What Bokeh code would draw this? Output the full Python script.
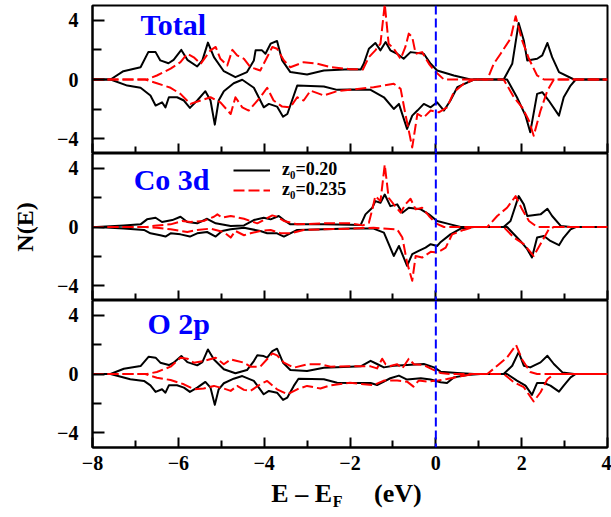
from bokeh.plotting import figure
from bokeh.models import (Range1d, FixedTicker, Span, Label, Legend, LegendItem,
                          CustomLabelingPolicy)
from bokeh.layouts import column
from bokeh.embed import file_html
from bokeh.resources import INLINE

FONT = "Liberation Serif"

# ---------------- data ----------------
X_TICKS = [-8, -6, -4, -2, 0, 2, 4]
X_MINOR = [-7, -5, -3, -1, 1, 3]
X_LABELS = ["\u22128", "\u22126", "\u22124", "\u22122", "0", "2", "4"]
Y_TICKS = [-4, 0, 4]
Y_MINOR = [-2, 2]
Y_LABELS = ["\u22124", "0", "4"]
PANELS = ["Total", "Co 3d", "O 2p"]
SERIES = ["z\u2080=0.20", "z\u2080=0.235"]

# Total, z0=0.20
TOT_A_UP_E = [-8.0, -7.58, -7.28, -6.88, -6.7, -6.53, -6.42, -6.23, -6.11, -5.93, -5.79, -5.56, -5.44, -5.31, -5.17, -4.94, -4.67, -4.4, -4.24, -4.2, -4.05, -3.97, -3.85, -3.7, -3.58, -3.39, -3.0, -2.61, -2.0, -1.75, -1.68, -1.56, -1.41, -1.29, -1.17, -1.06, -0.9, -0.75, -0.59, -0.28, -0.12, 0.03, 0.42, 0.81, 1.58, 1.78, 1.93, 2.05, 2.13, 2.36, 2.48, 2.6, 2.71, 2.87, 3.22, 4.0]
TOT_A_UP_N = [0, 0, 0.56, 0.83, 1.85, 1.85, 1.29, 1.1, 1.33, 2.0, 1.33, 0.88, 1.29, 2.49, 1.51, 0.56, 0.16, 0.5, 1.29, 1.97, 1.97, 1.74, 2.42, 2.6, 1.29, 0.5, 0.34, 0.61, 0.70, 0.68, 1.06, 2.08, 2.47, 1.97, 2.53, 1.97, 1.74, 1.4, 1.85, 1.74, 1.06, 0.61, 0.27, 0, 0, 1.06, 3.82, 2.64, 1.29, 1.4, 1.63, 2.47, 1.51, 0.5, 0, 0]
TOT_A_DN_E = [-8.0, -7.58, -7.19, -6.88, -6.65, -6.53, -6.38, -6.3, -6.22, -6.03, -5.87, -5.73, -5.56, -5.37, -5.25, -5.15, -5.06, -4.94, -4.71, -4.51, -4.24, -4.01, -3.89, -3.7, -3.56, -3.46, -3.31, -3.23, -2.61, -2.3, -2.0, -1.52, -1.21, -0.98, -0.86, -0.67, -0.55, -0.43, -0.28, -0.12, 0.03, 0.19, 0.34, 0.5, 0.89, 1.66, 1.89, 2.09, 2.2, 2.36, 2.48, 2.63, 2.87, 2.98, 3.14, 3.26, 4.0]
TOT_A_DN_N = [0, 0, -0.41, -0.56, -1.08, -1.76, -1.54, -1.88, -1.2, -1.2, -1.42, -1.92, -1.42, -0.79, -1.42, -3.05, -1.42, -0.79, -0.25, -0.02, -0.56, -1.88, -1.65, -1.83, -2.51, -2.33, -1.08, -0.41, -0.47, -0.7, -0.68, -0.7, -1.2, -1.99, -1.65, -3.34, -2.44, -2.1, -1.65, -1.88, -1.54, -2.1, -1.42, -0.52, 0, 0, -1.2, -2.44, -3.57, -0.97, -0.86, -1.42, -2.44, -1.2, -0.41, 0, 0]
# Total, z0=0.235
TOT_B_UP_E = [-8.0, -6.73, -6.5, -6.18, -5.95, -5.79, -5.64, -5.48, -5.25, -5.13, -5.02, -4.86, -4.74, -4.63, -4.47, -4.32, -4.09, -3.81, -3.7, -3.54, -3.39, -3.08, -2.76, -2.45, -2.0, -1.7, -1.56, -1.41, -1.29, -1.19, -1.1, -0.98, -0.82, -0.71, -0.63, -0.55, -0.47, -0.32, -0.16, -0.04, 0.19, 1.2, 1.35, 1.51, 1.74, 1.86, 2.01, 2.17, 2.36, 2.52, 4.0]
TOT_B_UP_N = [0, 0, 0.27, 0.73, 1.17, 1.74, 1.5, 1.06, 1.97, 2.2, 1.4, 0.95, 2.0, 1.63, 1.4, 0.83, 0.61, 2.2, 2.08, 1.29, 0.83, 1.17, 1.06, 0.83, 0.70, 0.68, 1.51, 1.97, 2.42, 5.1, 2.42, 2.08, 1.4, 2.2, 3.1, 2.87, 1.74, 1.85, 1.06, 0.61, 0, 0, 1.06, 1.74, 2.76, 4.27, 2.64, 1.4, 0.27, 0, 0]
TOT_B_DN_E = [-8.0, -6.77, -6.5, -6.18, -5.95, -5.72, -5.48, -5.25, -5.02, -4.78, -4.67, -4.51, -4.36, -4.09, -3.93, -3.78, -3.58, -3.39, -3.23, -3.08, -2.92, -2.61, -2.3, -2.0, -1.45, -0.98, -0.82, -0.71, -0.55, -0.43, -0.28, -0.12, 0.07, 0.26, 0.42, 0.65, 0.89, 1.58, 1.82, 2.01, 2.17, 2.28, 2.44, 2.6, 2.75, 4.0]
TOT_B_DN_N = [0, 0, -0.25, -0.56, -0.97, -1.65, -1.42, -1.2, -1.54, -2.33, -1.2, -1.88, -2.1, -1.2, -0.56, -1.42, -1.83, -1.88, -1.2, -1.42, -0.75, -1.08, -0.79, -0.7, -0.52, -0.29, -0.63, -2.33, -4.59, -2.33, -2.56, -2.1, -2.22, -1.88, -0.86, -0.29, 0, 0, -1.2, -1.88, -2.78, -3.8, -2.1, -0.75, 0, 0]

# Co 3d, z0=0.20
CO_A_UP_E = [-8.0, -7.9, -7.27, -6.88, -6.73, -6.53, -6.38, -6.14, -5.95, -5.79, -5.56, -5.33, -5.13, -4.78, -4.47, -4.24, -4.01, -3.85, -3.66, -3.54, -3.39, -2.61, -2.0, -1.75, -1.64, -1.48, -1.41, -1.29, -1.19, -1.06, -0.9, -0.78, -0.63, -0.35, -0.16, 0.03, 0.34, 0.58, 1.58, 1.74, 1.93, 2.05, 2.13, 2.44, 2.6, 2.71, 2.91, 3.14, 4.0]
CO_A_UP_N = [0, 0, 0.11, 0.18, 0.52, 0.63, 0.34, 0.47, 0.7, 0.34, 0.25, 0.56, 0.25, 0.07, 0.11, 0.47, 0.63, 0.52, 0.75, 0.47, 0.18, 0.18, 0.16, 0.14, 0.86, 1.31, 1.76, 1.65, 2.21, 1.42, 1.54, 0.97, 1.31, 1.2, 0.86, 0.41, 0.18, 0, 0, 0.41, 2.1, 1.54, 0.75, 0.86, 1.24, 0.75, 0.07, 0, 0]
CO_A_DN_E = [-8.0, -7.9, -7.27, -6.8, -6.65, -6.42, -6.3, -6.18, -5.95, -5.73, -5.56, -5.33, -5.13, -4.98, -4.78, -4.47, -4.09, -3.93, -3.7, -3.54, -3.39, -3.23, -2.61, -2.0, -1.45, -1.21, -0.98, -0.86, -0.67, -0.55, -0.4, -0.24, -0.12, 0.03, 0.1, 0.34, 0.58, 0.89, 1.66, 1.97, 2.13, 2.24, 2.36, 2.52, 2.67, 2.87, 2.98, 3.14, 3.26, 4.0]
CO_A_DN_N = [0, 0, -0.11, -0.2, -0.43, -0.56, -0.65, -0.43, -0.5, -0.65, -0.43, -0.34, -0.65, -0.27, -0.16, -0.05, -0.27, -0.43, -0.43, -0.65, -0.43, -0.2, -0.16, -0.11, -0.11, -0.38, -1.97, -1.29, -2.64, -1.85, -1.63, -1.4, -1.17, -1.29, -1.06, -0.5, -0.11, 0, 0, -0.95, -1.51, -2.08, -0.72, -0.61, -0.95, -1.24, -0.72, -0.16, 0, 0]
# Co 3d, z0=0.235
CO_B_UP_E = [-8.0, -6.73, -6.5, -6.18, -5.91, -5.72, -5.41, -5.17, -5.09, -4.98, -4.78, -4.47, -4.16, -3.81, -3.7, -3.54, -3.23, -2.61, -2.0, -1.7, -1.56, -1.48, -1.41, -1.29, -1.19, -1.1, -0.98, -0.82, -0.71, -0.59, -0.47, -0.32, -0.16, 0.0, 0.19, 1.2, 1.43, 1.66, 1.86, 2.01, 2.17, 2.36, 4.0]
CO_B_UP_N = [0, 0, 0.11, 0.18, 0.41, 0.34, 0.41, 0.7, 0.86, 0.63, 0.75, 0.56, 0.25, 0.79, 0.7, 0.41, 0.18, 0.25, 0.25, 0.11, 0.29, 1.2, 2.1, 1.76, 4.24, 1.99, 1.54, 0.97, 1.54, 1.92, 1.2, 1.31, 0.75, 0.25, 0, 0, 0.75, 1.31, 2.1, 1.2, 0.41, 0, 0]
CO_B_DN_E = [-8.0, -6.77, -6.5, -6.18, -5.79, -5.56, -5.25, -4.94, -4.78, -4.67, -4.47, -4.32, -4.09, -3.85, -3.62, -3.39, -3.08, -2.61, -2.0, -1.45, -0.9, -0.78, -0.67, -0.55, -0.47, -0.32, -0.12, 0.03, 0.23, 0.38, 0.65, 0.89, 1.58, 1.82, 2.05, 2.28, 2.48, 2.63, 2.75, 4.0]
CO_B_DN_N = [0, 0, -0.05, -0.16, -0.34, -0.2, -0.11, -0.34, -0.72, -0.27, -0.56, -0.43, -0.27, -0.2, -0.43, -0.43, -0.2, -0.16, -0.11, -0.05, -0.16, -0.72, -2.42, -3.66, -1.97, -2.08, -1.69, -1.74, -1.4, -0.5, -0.2, 0, 0, -0.72, -1.17, -1.97, -0.95, -0.16, 0, 0]

# O 2p, z0=0.20
O_A_UP_E = [-8.0, -7.58, -7.27, -6.88, -6.69, -6.53, -6.42, -6.22, -6.11, -5.93, -5.79, -5.56, -5.44, -5.31, -5.17, -4.94, -4.67, -4.4, -4.24, -4.16, -4.01, -3.93, -3.81, -3.7, -3.56, -3.39, -3.0, -2.61, -2.0, -1.75, -1.52, -1.37, -1.21, -0.98, -0.67, -0.28, -0.04, 0.11, 0.5, 0.89, 1.58, 1.78, 1.93, 2.05, 2.2, 2.44, 2.6, 2.75, 2.95, 3.22, 4.0]
O_A_UP_N = [0, 0, 0.36, 0.54, 1.18, 1.11, 0.77, 0.61, 0.77, 1.22, 0.81, 0.59, 0.81, 1.67, 0.99, 0.32, 0.05, 0.27, 0.88, 1.27, 1.22, 1.11, 1.56, 1.72, 0.77, 0.27, 0.2, 0.43, 0.5, 0.52, 0.9, 0.68, 0.45, 0.56, 0.61, 0.68, 0.45, 0.16, 0.07, 0, 0, 0.56, 1.49, 0.56, 0.45, 0.79, 1.24, 0.68, 0.11, 0, 0]
O_A_DN_E = [-8.0, -7.58, -7.12, -6.8, -6.65, -6.53, -6.38, -6.3, -6.22, -6.03, -5.87, -5.73, -5.56, -5.37, -5.25, -5.15, -5.06, -4.94, -4.71, -4.51, -4.24, -4.01, -3.89, -3.7, -3.56, -3.46, -3.31, -3.2, -2.61, -2.3, -2.0, -1.52, -1.37, -1.06, -0.86, -0.67, -0.35, -0.12, 0.11, 0.26, 0.42, 0.73, 1.04, 1.66, 1.89, 2.09, 2.24, 2.36, 2.52, 2.67, 2.87, 2.98, 3.14, 3.26, 4.0]
O_A_DN_N = [0, 0, -0.36, -0.47, -0.77, -1.22, -1.04, -1.27, -0.77, -0.77, -0.93, -1.22, -0.93, -0.54, -0.93, -2.1, -1.04, -0.63, -0.32, -0.14, -0.47, -1.38, -1.15, -1.27, -1.76, -1.6, -0.81, -0.32, -0.36, -0.59, -0.61, -0.61, -0.75, -0.29, -0.11, -0.38, -0.29, -0.38, -0.56, -0.61, -0.23, -0.07, 0, 0, -0.45, -0.79, -1.42, -0.61, -0.61, -0.79, -1.2, -0.79, -0.23, 0, 0]
# O 2p, z0=0.235
O_B_UP_E = [-8.0, -6.73, -6.5, -6.18, -5.95, -5.79, -5.64, -5.41, -5.13, -4.94, -4.78, -4.63, -4.47, -4.32, -4.09, -3.81, -3.7, -3.54, -3.31, -3.0, -2.69, -2.45, -2.0, -1.52, -1.37, -1.25, -1.17, -1.06, -0.9, -0.78, -0.63, -0.51, -0.28, -0.08, 0.11, 0.34, 1.2, 1.43, 1.66, 1.87, 2.01, 2.2, 2.36, 4.0]
O_B_UP_N = [0, 0, 0.14, 0.5, 1.11, 1.04, 0.77, 0.88, 1.11, 0.66, 0.99, 0.88, 0.77, 0.5, 0.5, 1.4, 1.27, 0.77, 0.43, 0.66, 0.66, 0.5, 0.52, 0.52, 0.38, 1.04, 0.66, 0.54, 0.66, 0.38, 1.04, 0.66, 0.61, 0.32, 0.07, 0, 0, 0.56, 1.13, 1.97, 0.99, 0.14, 0, 0]
O_B_DN_E = [-8.0, -6.77, -6.5, -6.18, -5.87, -5.64, -5.41, -5.17, -4.94, -4.78, -4.63, -4.47, -4.32, -4.09, -3.93, -3.7, -3.46, -3.23, -3.0, -2.69, -2.45, -2.0, -1.75, -1.45, -1.21, -0.9, -0.67, -0.52, -0.4, -0.2, 0.03, 0.26, 0.58, 0.89, 1.58, 1.82, 2.05, 2.28, 2.44, 2.6, 2.75, 4.0]
O_B_DN_N = [0, 0, -0.25, -0.41, -0.7, -1.04, -0.99, -0.81, -0.99, -1.15, -0.81, -1.08, -1.15, -0.7, -0.47, -1.04, -1.38, -1.04, -0.81, -0.99, -0.77, -0.59, -0.68, -0.75, -0.45, -0.45, -0.52, -0.86, -0.45, -0.52, -0.45, -0.34, -0.16, 0, 0, -0.56, -0.9, -1.87, -1.24, -0.36, 0, 0]

CURVES = [
    ((TOT_A_UP_E, TOT_A_UP_N), (TOT_A_DN_E, TOT_A_DN_N), (TOT_B_UP_E, TOT_B_UP_N), (TOT_B_DN_E, TOT_B_DN_N)),
    ((CO_A_UP_E, CO_A_UP_N), (CO_A_DN_E, CO_A_DN_N), (CO_B_UP_E, CO_B_UP_N), (CO_B_DN_E, CO_B_DN_N)),
    ((O_A_UP_E, O_A_UP_N), (O_A_DN_E, O_A_DN_N), (O_B_UP_E, O_B_UP_N), (O_B_DN_E, O_B_DN_N)),
]
LABEL_POS = [(-6.88, 3.75), (-7.04, 3.25), (-6.72, 3.45)]

BLACK = "#000000"
RED = "#ff0000"
BLUE = "#0000ff"

LEFT = 92
FRAME_W = 515
RIGHT = 4


def make_panel(i):
    bottom = (i == 2)
    p = figure(frame_width=FRAME_W, frame_height=148 if i == 0 else 147,
               x_range=Range1d(-8, 4), y_range=Range1d(-5, 5),
               output_backend="svg", toolbar_location=None,
               min_border_left=LEFT, min_border_right=RIGHT,
               min_border_top=5 if i == 0 else 0,
               min_border_bottom=30 if bottom else 0)
    p.grid.visible = False
    p.outline_line_color = "black"
    p.outline_line_width = 2
    p.outline_line_alpha = 1.0
    p.background_fill_color = "white"
    p.border_fill_color = "white"

    xa = p.xaxis[0]
    xa.ticker = FixedTicker(ticks=X_TICKS, minor_ticks=X_MINOR)
    xa.major_tick_in = 10
    xa.major_tick_out = 0
    xa.minor_tick_in = 7
    xa.minor_tick_out = 0
    xa.major_tick_line_width = 2
    xa.minor_tick_line_width = 2
    xa.axis_line_width = 2
    if bottom:
        xa.major_label_overrides = {t: l for t, l in zip(X_TICKS, X_LABELS)}
        xa.major_label_text_font = FONT
        xa.major_label_text_font_style = "bold"
        xa.major_label_text_font_size = "20px"
        xa.major_label_text_color = "black"
        xa.major_label_standoff = 8
    else:
        xa.major_label_text_font_size = "0px"
        xa.major_label_standoff = 0
        xa.major_label_policy = CustomLabelingPolicy(code="return []")

    ya = p.yaxis[0]
    ya.ticker = FixedTicker(ticks=Y_TICKS, minor_ticks=Y_MINOR)
    ya.major_label_overrides = {t: l for t, l in zip(Y_TICKS, Y_LABELS)}
    ya.major_tick_in = 12
    ya.major_tick_out = 0
    ya.minor_tick_in = 9
    ya.minor_tick_out = 0
    ya.major_tick_line_width = 2
    ya.minor_tick_line_width = 2
    ya.axis_line_width = 2
    ya.major_label_text_font = FONT
    ya.major_label_text_font_style = "bold"
    ya.major_label_text_font_size = "20px"
    ya.major_label_text_color = "black"
    ya.major_label_standoff = 14
    if i == 1:
        ya.axis_label = "N(E)"
        ya.axis_label_text_font = FONT
        ya.axis_label_text_font_style = "bold"
        ya.axis_label_text_font_size = "24px"
        ya.axis_label_text_color = "black"
        ya.axis_label_standoff = 16

    (a_up, a_dn, b_up, b_dn) = CURVES[i]
    r_a = p.line(a_up[0], a_up[1], line_color=BLACK, line_width=2, line_join="round")
    p.line(a_dn[0], a_dn[1], line_color=BLACK, line_width=2, line_join="round")
    r_b = p.line(b_up[0], b_up[1], line_color=RED, line_width=2, line_dash="11 4", line_join="round")
    p.line(b_dn[0], b_dn[1], line_color=RED, line_width=2, line_dash="11 4", line_join="round")

    p.add_layout(Span(location=0, dimension="height", line_color=BLUE,
                      line_width=2, line_dash="9 4"))

    lx, ly = LABEL_POS[i]
    p.add_layout(Label(x=lx, y=ly, text=PANELS[i], text_font=FONT,
                       text_font_style="bold", text_font_size="30px",
                       text_color=BLUE, text_baseline="alphabetic"))

    if i == 1:
        for k, (r, loc) in enumerate(((r_a, (141, 120)), (r_b, (141, 100)))):
            lg = Legend(items=[LegendItem(label=SERIES[k], renderers=[r])],
                        location=loc, border_line_color=None,
                        background_fill_alpha=0, padding=0, margin=0, spacing=0,
                        glyph_width=37, glyph_height=16, label_height=16,
                        label_standoff=12, label_text_font=FONT,
                        label_text_font_style="bold", label_text_font_size="18px",
                        label_text_color="black")
            p.add_layout(lg)
    return p


def make_xlabel():
    q = figure(frame_width=FRAME_W, frame_height=36,
               x_range=Range1d(-8, 4), y_range=Range1d(0, 1),
               output_backend="svg", toolbar_location=None,
               x_axis_location=None, y_axis_location=None,
               min_border_left=LEFT, min_border_right=RIGHT,
               min_border_top=0, min_border_bottom=0)
    q.grid.visible = False
    q.outline_line_color = None
    q.background_fill_color = "white"
    q.border_fill_color = "white"
    common = dict(text_font=FONT, text_font_style="bold", text_color="black",
                  text_baseline="middle")
    q.add_layout(Label(x=-2.42, y=0.56, text="E \u2013 E", text_align="right",
                       text_font_size="26px", **common))
    q.add_layout(Label(x=-2.40, y=0.33, text="F", text_align="left",
                       text_font_size="16px", **common))
    q.add_layout(Label(x=-0.33, y=0.56, text="(eV)", text_align="right",
                       text_font_size="26px", **common))
    return q


panels = [make_panel(i) for i in range(3)]
layout = column(*panels, make_xlabel(), spacing=0)

open("out.html", "w").write(file_html(layout, INLINE))
